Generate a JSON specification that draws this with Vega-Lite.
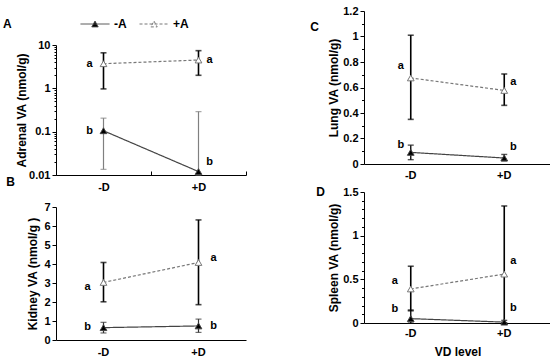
{
  "$schema": "https://vega.github.io/schema/vega-lite/v6.json",
  "padding": {"left": 3, "top": 5, "right": 0, "bottom": 0},
  "background": "white",
  "data": {"values": [
    {"panel": "A", "vd": "-D", "series": "-A", "m": 0.105, "lo": 0.0135, "hi": 0.205, "letter": "b", "ly": 0.105},
    {"panel": "A", "vd": "+D", "series": "-A", "m": 0.012, "lo": 0.01, "hi": 0.29, "letter": "b", "ly": 0.02},
    {"panel": "A", "vd": "-D", "series": "+A", "m": 3.7, "lo": 0.97, "hi": 6.6, "letter": "a", "ly": 3.7},
    {"panel": "A", "vd": "+D", "series": "+A", "m": 4.5, "lo": 2.0, "hi": 7.4, "letter": "a", "ly": 4.5},
    {"panel": "B", "vd": "-D", "series": "-A", "m": 0.65, "lo": 0.37, "hi": 0.93, "letter": "b", "ly": 0.67},
    {"panel": "B", "vd": "+D", "series": "-A", "m": 0.74, "lo": 0.4, "hi": 1.1, "letter": "b", "ly": 0.74},
    {"panel": "B", "vd": "-D", "series": "+A", "m": 3.03, "lo": 2.01, "hi": 4.08, "letter": "a", "ly": 2.8},
    {"panel": "B", "vd": "+D", "series": "+A", "m": 4.08, "lo": 1.86, "hi": 6.32, "letter": "a", "ly": 4.29},
    {"panel": "C", "vd": "-D", "series": "-A", "m": 0.091, "lo": 0.034, "hi": 0.148, "letter": "b", "ly": 0.151},
    {"panel": "C", "vd": "+D", "series": "-A", "m": 0.047, "lo": 0.025, "hi": 0.075, "letter": "b", "ly": 0.13},
    {"panel": "C", "vd": "-D", "series": "+A", "m": 0.675, "lo": 0.35, "hi": 1.01, "letter": "a", "ly": 0.766},
    {"panel": "C", "vd": "+D", "series": "+A", "m": 0.577, "lo": 0.46, "hi": 0.706, "letter": "a", "ly": 0.642},
    {"panel": "D", "vd": "-D", "series": "-A", "m": 0.05, "lo": 0, "hi": 0.15, "letter": "b", "ly": 0.163},
    {"panel": "D", "vd": "+D", "series": "-A", "m": 0.01, "lo": 0, "hi": 0.03, "letter": "b", "ly": 0.171},
    {"panel": "D", "vd": "-D", "series": "+A", "m": 0.39, "lo": 0.14, "hi": 0.65, "letter": "a", "ly": 0.486},
    {"panel": "D", "vd": "+D", "series": "+A", "m": 0.56, "lo": 0, "hi": 1.34, "letter": "a", "ly": 0.706}
  ]},
  "config": {
    "view": {"stroke": null},
    "font": "Liberation Sans",
    "axis": {"grid": false, "domainColor": "#000", "tickColor": "#000", "labelColor": "#000", "titleColor": "#000", "labelFontSize": 11, "labelFontWeight": "bold", "titleFontSize": 12, "titleFontWeight": "bold", "domainWidth": 1, "tickWidth": 1, "labelOverlap": false, "labelBound": false, "labelFlush": false},
    "title": {"fontSize": 12, "fontWeight": "bold", "color": "#000", "font": "Liberation Sans"}
  },
  "spacing": 62,
  "hconcat": [
    {
      "spacing": 9,
      "vconcat": [
        {
          "width": 190, "height": 164,
          "transform": [{"filter": "datum.panel === 'A'"}],
          "title": {"text": "A", "orient": "top", "anchor": "start", "frame": "group", "dx": -53, "offset": -20},
          "encoding": {"x": {"field": "vd", "type": "nominal", "scale": {"type": "band", "domain": ["-D", "+D"], "paddingInner": 0, "paddingOuter": 0}, "axis": {"title": "B", "titleX": -46, "titleY": 6, "titleAlign": "center", "titleBaseline": "middle", "titleAngle": 0, "labelAngle": 0, "ticks": true, "tickBand": "extent", "tickSize": -4, "labelPadding": 10}}},
          "layer": [
            {"layer": [
              {"transform": [{"filter": "datum.series === '-A'"}], "mark": {"type": "errorbar", "ticks": true, "size": 6, "thickness": 1.2, "color": "#808080"}, "encoding": {"y": {"field": "lo", "type": "quantitative", "scale": {"type": "log", "domain": [0.01, 10], "nice": false, "range": [164, 34]}, "axis": {"title": "Adrenal VA (nmol/g)", "values": [0.01, 0.1, 1, 10], "format": "~g", "tickSize": 4, "labelPadding": 2, "titlePadding": 0}}, "y2": {"field": "hi"}}},
              {"transform": [{"filter": "datum.series === '+A'"}], "mark": {"type": "errorbar", "ticks": true, "size": 6, "thickness": 1.6, "color": "#000"}, "encoding": {"y": {"field": "lo", "type": "quantitative", "scale": {"type": "log", "domain": [0.01, 10], "nice": false, "range": [164, 34]}, "axis": {"title": "Adrenal VA (nmol/g)", "values": [0.01, 0.1, 1, 10], "format": "~g", "tickSize": 4, "labelPadding": 2, "titlePadding": 0}}, "y2": {"field": "hi"}}},
              {"mark": {"type": "line", "strokeWidth": 1.2}, "encoding": {
                "y": {"field": "m", "type": "quantitative", "scale": {"type": "log", "domain": [0.01, 10], "nice": false, "range": [164, 34]}, "axis": {"title": "Adrenal VA (nmol/g)", "values": [0.01, 0.1, 1, 10], "format": "~g", "tickSize": 4, "labelPadding": 2, "titlePadding": 0}},
                "stroke": {"field": "series", "type": "nominal", "scale": {"domain": ["-A", "+A"], "range": ["#444444", "#777777"]}, "legend": {"title": null, "orient": "none", "legendX": 24, "legendY": -2, "direction": "horizontal", "symbolType": "M-1,0H1M0,-0.2L0.22,0.2L-0.22,0.2Z", "symbolSize": 841, "symbolStrokeWidth": 1, "labelFontSize": 12, "labelFontWeight": "bold", "labelColor": "#000", "labelOffset": 4, "columnPadding": 10}},
                "strokeDash": {"field": "series", "type": "nominal", "scale": {"domain": ["-A", "+A"], "range": [[1, 0], [3, 2]]}, "legend": {"title": null, "orient": "none", "legendX": 24, "legendY": -2, "direction": "horizontal", "symbolType": "M-1,0H1M0,-0.2L0.22,0.2L-0.22,0.2Z", "symbolSize": 841, "symbolStrokeWidth": 1, "labelFontSize": 12, "labelFontWeight": "bold", "labelColor": "#000", "labelOffset": 4, "columnPadding": 10}}
              }},
              {"transform": [{"filter": "datum.vd === '-D'"}], "mark": {"type": "text", "dx": -14, "fontSize": 11, "fontWeight": "bold", "color": "#000"}, "encoding": {"y": {"field": "ly", "type": "quantitative", "scale": {"type": "log", "domain": [0.01, 10], "nice": false, "range": [164, 34]}, "axis": {"title": "Adrenal VA (nmol/g)", "values": [0.01, 0.1, 1, 10], "format": "~g", "tickSize": 4, "labelPadding": 2, "titlePadding": 0}}, "text": {"field": "letter"}}},
              {"transform": [{"filter": "datum.vd === '+D'"}], "mark": {"type": "text", "dx": 11, "fontSize": 11, "fontWeight": "bold", "color": "#000"}, "encoding": {"y": {"field": "ly", "type": "quantitative", "scale": {"type": "log", "domain": [0.01, 10], "nice": false, "range": [164, 34]}, "axis": {"title": "Adrenal VA (nmol/g)", "values": [0.01, 0.1, 1, 10], "format": "~g", "tickSize": 4, "labelPadding": 2, "titlePadding": 0}}, "text": {"field": "letter"}}}
            ]},
            {"mark": {"type": "point", "shape": "triangle-up", "filled": true, "size": 45, "strokeWidth": 1, "opacity": 1}, "encoding": {
              "y": {"field": "m", "type": "quantitative", "scale": {"type": "log", "domain": [0.01, 10], "nice": false, "range": [164, 34]}, "axis": {"orient": "left", "values": [0.02, 0.03, 0.04, 0.05, 0.06, 0.07, 0.08, 0.09, 0.2, 0.3, 0.4, 0.5, 0.6, 0.7, 0.8, 0.9, 2, 3, 4, 5, 6, 7, 8, 9], "labels": false, "domain": false, "title": null, "tickSize": 2}},
              "fill": {"field": "series", "type": "nominal", "scale": {"domain": ["-A", "+A"], "range": ["#000000", "#ffffff"]}, "legend": {"title": null, "orient": "none", "legendX": 24, "legendY": -2, "direction": "horizontal", "symbolType": "M-1,0H1M0,-0.2L0.22,0.2L-0.22,0.2Z", "symbolSize": 841, "symbolStrokeWidth": 1, "labelFontSize": 12, "labelFontWeight": "bold", "labelColor": "#000", "labelOffset": 4, "columnPadding": 10}},
              "stroke": {"field": "series", "type": "nominal", "scale": {"domain": ["-A", "+A"], "range": ["#444444", "#777777"]}, "legend": {"title": null, "orient": "none", "legendX": 24, "legendY": -2, "direction": "horizontal", "symbolType": "M-1,0H1M0,-0.2L0.22,0.2L-0.22,0.2Z", "symbolSize": 841, "symbolStrokeWidth": 1, "labelFontSize": 12, "labelFontWeight": "bold", "labelColor": "#000", "labelOffset": 4, "columnPadding": 10}}
            }}
          ],
          "resolve": {"axis": {"y": "independent"}}
        },
        {
          "width": 190, "height": 133,
          "transform": [{"filter": "datum.panel === 'B'"}],
          "encoding": {"x": {"field": "vd", "type": "nominal", "scale": {"type": "band", "domain": ["-D", "+D"], "paddingInner": 0, "paddingOuter": 0}, "axis": {"title": null, "labelAngle": 0, "ticks": false, "labelPadding": 6}}},
          "layer": [
            {"transform": [{"filter": "datum.series === '-A'"}], "mark": {"type": "errorbar", "ticks": true, "size": 6, "thickness": 1.2, "color": "#333"}, "encoding": {"y": {"field": "lo", "type": "quantitative", "scale": {"domain": [0, 7], "nice": false}, "axis": {"title": "Kidney VA (nmol/g )", "values": [0, 1, 2, 3, 4, 5, 6, 7], "format": "~g", "tickSize": 4, "labelPadding": 2, "titlePadding": 4}}, "y2": {"field": "hi"}}},
            {"transform": [{"filter": "datum.series === '+A'"}], "mark": {"type": "errorbar", "ticks": true, "size": 6, "thickness": 1.6, "color": "#000"}, "encoding": {"y": {"field": "lo", "type": "quantitative", "scale": {"domain": [0, 7], "nice": false}, "axis": {"title": "Kidney VA (nmol/g )", "values": [0, 1, 2, 3, 4, 5, 6, 7], "format": "~g", "tickSize": 4, "labelPadding": 2, "titlePadding": 4}}, "y2": {"field": "hi"}}},
            {"mark": {"type": "line", "strokeWidth": 1.2}, "encoding": {
              "y": {"field": "m", "type": "quantitative", "scale": {"domain": [0, 7], "nice": false}, "axis": {"title": "Kidney VA (nmol/g )", "values": [0, 1, 2, 3, 4, 5, 6, 7], "format": "~g", "tickSize": 4, "labelPadding": 2, "titlePadding": 4}},
              "stroke": {"field": "series", "type": "nominal", "scale": {"domain": ["-A", "+A"], "range": ["#444444", "#777777"]}, "legend": {"title": null, "orient": "none", "legendX": 24, "legendY": -2, "direction": "horizontal", "symbolType": "M-1,0H1M0,-0.2L0.22,0.2L-0.22,0.2Z", "symbolSize": 841, "symbolStrokeWidth": 1, "labelFontSize": 12, "labelFontWeight": "bold", "labelColor": "#000", "labelOffset": 4, "columnPadding": 10}},
              "strokeDash": {"field": "series", "type": "nominal", "scale": {"domain": ["-A", "+A"], "range": [[1, 0], [3, 2]]}, "legend": {"title": null, "orient": "none", "legendX": 24, "legendY": -2, "direction": "horizontal", "symbolType": "M-1,0H1M0,-0.2L0.22,0.2L-0.22,0.2Z", "symbolSize": 841, "symbolStrokeWidth": 1, "labelFontSize": 12, "labelFontWeight": "bold", "labelColor": "#000", "labelOffset": 4, "columnPadding": 10}}
            }},
            {"transform": [{"filter": "datum.vd === '-D'"}], "mark": {"type": "text", "dx": -16, "fontSize": 11, "fontWeight": "bold", "color": "#000"}, "encoding": {"y": {"field": "ly", "type": "quantitative", "scale": {"domain": [0, 7], "nice": false}, "axis": {"title": "Kidney VA (nmol/g )", "values": [0, 1, 2, 3, 4, 5, 6, 7], "format": "~g", "tickSize": 4, "labelPadding": 2, "titlePadding": 4}}, "text": {"field": "letter"}}},
            {"transform": [{"filter": "datum.vd === '+D'"}], "mark": {"type": "text", "dx": 15, "fontSize": 11, "fontWeight": "bold", "color": "#000"}, "encoding": {"y": {"field": "ly", "type": "quantitative", "scale": {"domain": [0, 7], "nice": false}, "axis": {"title": "Kidney VA (nmol/g )", "values": [0, 1, 2, 3, 4, 5, 6, 7], "format": "~g", "tickSize": 4, "labelPadding": 2, "titlePadding": 4}}, "text": {"field": "letter"}}},
            {"mark": {"type": "point", "shape": "triangle-up", "filled": true, "size": 45, "strokeWidth": 1, "opacity": 1}, "encoding": {
              "y": {"field": "m", "type": "quantitative", "scale": {"domain": [0, 7], "nice": false}, "axis": {"title": "Kidney VA (nmol/g )", "values": [0, 1, 2, 3, 4, 5, 6, 7], "format": "~g", "tickSize": 4, "labelPadding": 2, "titlePadding": 4}},
              "fill": {"field": "series", "type": "nominal", "scale": {"domain": ["-A", "+A"], "range": ["#000000", "#ffffff"]}, "legend": {"title": null, "orient": "none", "legendX": 24, "legendY": -2, "direction": "horizontal", "symbolType": "M-1,0H1M0,-0.2L0.22,0.2L-0.22,0.2Z", "symbolSize": 841, "symbolStrokeWidth": 1, "labelFontSize": 12, "labelFontWeight": "bold", "labelColor": "#000", "labelOffset": 4, "columnPadding": 10}},
              "stroke": {"field": "series", "type": "nominal", "scale": {"domain": ["-A", "+A"], "range": ["#444444", "#777777"]}, "legend": {"title": null, "orient": "none", "legendX": 24, "legendY": -2, "direction": "horizontal", "symbolType": "M-1,0H1M0,-0.2L0.22,0.2L-0.22,0.2Z", "symbolSize": 841, "symbolStrokeWidth": 1, "labelFontSize": 12, "labelFontWeight": "bold", "labelColor": "#000", "labelOffset": 4, "columnPadding": 10}}
            }}
          ]
        }
      ]
    },
    {
      "spacing": 5,
      "vconcat": [
        {
          "width": 187, "height": 153,
          "transform": [{"filter": "datum.panel === 'C'"}],
          "encoding": {"x": {"field": "vd", "type": "nominal", "scale": {"type": "band", "domain": ["-D", "+D"], "paddingInner": 0, "paddingOuter": 0}, "axis": {"title": "C", "titleX": -50, "titleY": -138, "titleAlign": "center", "titleBaseline": "middle", "titleAngle": 0, "labelAngle": 0, "ticks": false, "labelPadding": 5}}},
          "layer": [
            {"layer": [
              {"transform": [{"filter": "datum.series === '-A'"}], "mark": {"type": "errorbar", "ticks": true, "size": 6, "thickness": 1.4, "color": "#111"}, "encoding": {"y": {"field": "lo", "type": "quantitative", "scale": {"domain": [0, 1.2], "nice": false}, "axis": {"title": "Lung VA (nmol/g)", "values": [0, 0.2, 0.4, 0.6, 0.8, 1, 1.2], "format": "~g", "tickSize": 4, "labelPadding": 2, "titlePadding": 2}}, "y2": {"field": "hi"}}},
              {"transform": [{"filter": "datum.series === '+A'"}], "mark": {"type": "errorbar", "ticks": true, "size": 6, "thickness": 1.6, "color": "#000"}, "encoding": {"y": {"field": "lo", "type": "quantitative", "scale": {"domain": [0, 1.2], "nice": false}, "axis": {"title": "Lung VA (nmol/g)", "values": [0, 0.2, 0.4, 0.6, 0.8, 1, 1.2], "format": "~g", "tickSize": 4, "labelPadding": 2, "titlePadding": 2}}, "y2": {"field": "hi"}}},
              {"mark": {"type": "line", "strokeWidth": 1.2}, "encoding": {
                "y": {"field": "m", "type": "quantitative", "scale": {"domain": [0, 1.2], "nice": false}, "axis": {"title": "Lung VA (nmol/g)", "values": [0, 0.2, 0.4, 0.6, 0.8, 1, 1.2], "format": "~g", "tickSize": 4, "labelPadding": 2, "titlePadding": 2}},
                "stroke": {"field": "series", "type": "nominal", "scale": {"domain": ["-A", "+A"], "range": ["#444444", "#777777"]}, "legend": {"title": null, "orient": "none", "legendX": 24, "legendY": -2, "direction": "horizontal", "symbolType": "M-1,0H1M0,-0.2L0.22,0.2L-0.22,0.2Z", "symbolSize": 841, "symbolStrokeWidth": 1, "labelFontSize": 12, "labelFontWeight": "bold", "labelColor": "#000", "labelOffset": 4, "columnPadding": 10}},
                "strokeDash": {"field": "series", "type": "nominal", "scale": {"domain": ["-A", "+A"], "range": [[1, 0], [3, 2]]}, "legend": {"title": null, "orient": "none", "legendX": 24, "legendY": -2, "direction": "horizontal", "symbolType": "M-1,0H1M0,-0.2L0.22,0.2L-0.22,0.2Z", "symbolSize": 841, "symbolStrokeWidth": 1, "labelFontSize": 12, "labelFontWeight": "bold", "labelColor": "#000", "labelOffset": 4, "columnPadding": 10}}
              }},
              {"transform": [{"filter": "datum.vd === '-D'"}], "mark": {"type": "text", "dx": -10, "fontSize": 11, "fontWeight": "bold", "color": "#000"}, "encoding": {"y": {"field": "ly", "type": "quantitative", "scale": {"domain": [0, 1.2], "nice": false}, "axis": {"title": "Lung VA (nmol/g)", "values": [0, 0.2, 0.4, 0.6, 0.8, 1, 1.2], "format": "~g", "tickSize": 4, "labelPadding": 2, "titlePadding": 2}}, "text": {"field": "letter"}}},
              {"transform": [{"filter": "datum.vd === '+D'"}], "mark": {"type": "text", "dx": 9, "fontSize": 11, "fontWeight": "bold", "color": "#000"}, "encoding": {"y": {"field": "ly", "type": "quantitative", "scale": {"domain": [0, 1.2], "nice": false}, "axis": {"title": "Lung VA (nmol/g)", "values": [0, 0.2, 0.4, 0.6, 0.8, 1, 1.2], "format": "~g", "tickSize": 4, "labelPadding": 2, "titlePadding": 2}}, "text": {"field": "letter"}}}
            ]},
            {"mark": {"type": "point", "shape": "triangle-up", "filled": true, "size": 45, "strokeWidth": 1, "opacity": 1}, "encoding": {
              "y": {"field": "m", "type": "quantitative", "scale": {"domain": [0, 1.2], "nice": false}, "axis": {"orient": "left", "values": [0.1, 0.3, 0.5, 0.7, 0.9, 1.1], "labels": false, "domain": false, "title": null, "tickSize": 2.5}},
              "fill": {"field": "series", "type": "nominal", "scale": {"domain": ["-A", "+A"], "range": ["#000000", "#ffffff"]}, "legend": {"title": null, "orient": "none", "legendX": 24, "legendY": -2, "direction": "horizontal", "symbolType": "M-1,0H1M0,-0.2L0.22,0.2L-0.22,0.2Z", "symbolSize": 841, "symbolStrokeWidth": 1, "labelFontSize": 12, "labelFontWeight": "bold", "labelColor": "#000", "labelOffset": 4, "columnPadding": 10}},
              "stroke": {"field": "series", "type": "nominal", "scale": {"domain": ["-A", "+A"], "range": ["#444444", "#777777"]}, "legend": {"title": null, "orient": "none", "legendX": 24, "legendY": -2, "direction": "horizontal", "symbolType": "M-1,0H1M0,-0.2L0.22,0.2L-0.22,0.2Z", "symbolSize": 841, "symbolStrokeWidth": 1, "labelFontSize": 12, "labelFontWeight": "bold", "labelColor": "#000", "labelOffset": 4, "columnPadding": 10}}
            }}
          ],
          "resolve": {"axis": {"y": "independent"}}
        },
        {
          "width": 187, "height": 131,
          "transform": [{"filter": "datum.panel === 'D'"}],
          "encoding": {"x": {"field": "vd", "type": "nominal", "scale": {"type": "band", "domain": ["-D", "+D"], "paddingInner": 0, "paddingOuter": 0}, "axis": {"title": "VD level", "labelAngle": 0, "ticks": false, "labelPadding": 4, "titlePadding": 8}}},
          "layer": [
            {"layer": [
              {"transform": [{"filter": "datum.series === '-A'"}], "mark": {"type": "errorbar", "ticks": true, "size": 6, "thickness": 1.4, "color": "#111"}, "encoding": {"y": {"field": "lo", "type": "quantitative", "scale": {"domain": [0, 1.5], "nice": false}, "axis": {"title": "Spleen VA (nmol/g)", "values": [0, 0.5, 1, 1.4999], "format": ".1~f", "tickSize": 4, "labelPadding": 2, "titlePadding": 2}}, "y2": {"field": "hi"}}},
              {"transform": [{"filter": "datum.series === '+A'"}], "mark": {"type": "errorbar", "ticks": true, "size": 6, "thickness": 1.6, "color": "#000"}, "encoding": {"y": {"field": "lo", "type": "quantitative", "scale": {"domain": [0, 1.5], "nice": false}, "axis": {"title": "Spleen VA (nmol/g)", "values": [0, 0.5, 1, 1.4999], "format": ".1~f", "tickSize": 4, "labelPadding": 2, "titlePadding": 2}}, "y2": {"field": "hi"}}},
              {"mark": {"type": "line", "strokeWidth": 1.2}, "encoding": {
                "y": {"field": "m", "type": "quantitative", "scale": {"domain": [0, 1.5], "nice": false}, "axis": {"title": "Spleen VA (nmol/g)", "values": [0, 0.5, 1, 1.4999], "format": ".1~f", "tickSize": 4, "labelPadding": 2, "titlePadding": 2}},
                "stroke": {"field": "series", "type": "nominal", "scale": {"domain": ["-A", "+A"], "range": ["#444444", "#777777"]}, "legend": {"title": null, "orient": "none", "legendX": 24, "legendY": -2, "direction": "horizontal", "symbolType": "M-1,0H1M0,-0.2L0.22,0.2L-0.22,0.2Z", "symbolSize": 841, "symbolStrokeWidth": 1, "labelFontSize": 12, "labelFontWeight": "bold", "labelColor": "#000", "labelOffset": 4, "columnPadding": 10}},
                "strokeDash": {"field": "series", "type": "nominal", "scale": {"domain": ["-A", "+A"], "range": [[1, 0], [3, 2]]}, "legend": {"title": null, "orient": "none", "legendX": 24, "legendY": -2, "direction": "horizontal", "symbolType": "M-1,0H1M0,-0.2L0.22,0.2L-0.22,0.2Z", "symbolSize": 841, "symbolStrokeWidth": 1, "labelFontSize": 12, "labelFontWeight": "bold", "labelColor": "#000", "labelOffset": 4, "columnPadding": 10}}
              }},
              {"transform": [{"filter": "datum.vd === '-D'"}], "mark": {"type": "text", "dx": -16, "fontSize": 11, "fontWeight": "bold", "color": "#000"}, "encoding": {"y": {"field": "ly", "type": "quantitative", "scale": {"domain": [0, 1.5], "nice": false}, "axis": {"title": "Spleen VA (nmol/g)", "values": [0, 0.5, 1, 1.4999], "format": ".1~f", "tickSize": 4, "labelPadding": 2, "titlePadding": 2}}, "text": {"field": "letter"}}},
              {"transform": [{"filter": "datum.vd === '+D'"}], "mark": {"type": "text", "dx": 9, "fontSize": 11, "fontWeight": "bold", "color": "#000"}, "encoding": {"y": {"field": "ly", "type": "quantitative", "scale": {"domain": [0, 1.5], "nice": false}, "axis": {"title": "Spleen VA (nmol/g)", "values": [0, 0.5, 1, 1.4999], "format": ".1~f", "tickSize": 4, "labelPadding": 2, "titlePadding": 2}}, "text": {"field": "letter"}}}
            ]},
            {"mark": {"type": "point", "shape": "triangle-up", "filled": true, "size": 45, "strokeWidth": 1, "opacity": 1}, "encoding": {
              "y": {"field": "m", "type": "quantitative", "scale": {"domain": [0, 1.5], "nice": false}, "axis": {"orient": "left", "values": [0.1, 0.2, 0.3, 0.4, 0.6, 0.7, 0.8, 0.9, 1.1, 1.2, 1.3, 1.4], "labels": false, "domain": false, "title": "D", "titleX": -44, "titleY": -1, "titleAngle": 0, "titleAlign": "center", "titleBaseline": "middle", "titleFontSize": 12, "tickSize": 2.5}},
              "fill": {"field": "series", "type": "nominal", "scale": {"domain": ["-A", "+A"], "range": ["#000000", "#ffffff"]}, "legend": {"title": null, "orient": "none", "legendX": 24, "legendY": -2, "direction": "horizontal", "symbolType": "M-1,0H1M0,-0.2L0.22,0.2L-0.22,0.2Z", "symbolSize": 841, "symbolStrokeWidth": 1, "labelFontSize": 12, "labelFontWeight": "bold", "labelColor": "#000", "labelOffset": 4, "columnPadding": 10}},
              "stroke": {"field": "series", "type": "nominal", "scale": {"domain": ["-A", "+A"], "range": ["#444444", "#777777"]}, "legend": {"title": null, "orient": "none", "legendX": 24, "legendY": -2, "direction": "horizontal", "symbolType": "M-1,0H1M0,-0.2L0.22,0.2L-0.22,0.2Z", "symbolSize": 841, "symbolStrokeWidth": 1, "labelFontSize": 12, "labelFontWeight": "bold", "labelColor": "#000", "labelOffset": 4, "columnPadding": 10}}
            }}
          ],
          "resolve": {"axis": {"y": "independent"}}
        }
      ]
    }
  ]
}
